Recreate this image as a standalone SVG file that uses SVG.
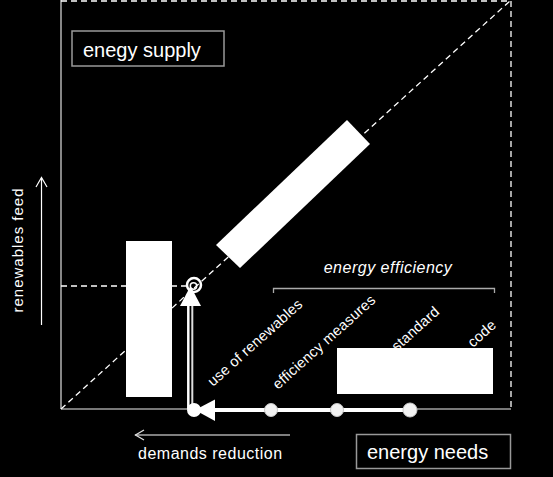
<svg xmlns="http://www.w3.org/2000/svg" width="553" height="477" viewBox="0 0 553 477">
<style>
text{font-family:"Liberation Sans",Arial,sans-serif;fill:#fff}
.dash{stroke:#fff;stroke-width:1.3;stroke-dasharray:6 4;fill:none}
.box{fill:#000;stroke:#999;stroke-width:1.5}
.blk{fill:#fff}
.dot{fill:#f2f2f2;stroke:#c8c8c8;stroke-width:1}
.lbl{font-size:14.6px;letter-spacing:0.2px}
</style>
<rect width="553" height="477" fill="#000"/>
<g id="frame">
<line x1="61" y1="0" x2="61" y2="409" stroke="#d0d0d0" stroke-width="1.3"/>
<line x1="61" y1="409" x2="511" y2="409" stroke="#a0a0a0" stroke-width="1.5"/>
<line x1="61" y1="1" x2="511" y2="1" class="dash"/>
<line x1="511" y1="1" x2="511" y2="409" class="dash"/>
<line x1="61" y1="409" x2="511" y2="0" class="dash"/>
<line x1="61" y1="286" x2="188" y2="286" class="dash"/>
</g>
<g id="supply-bar"><rect x="126" y="241" width="46" height="156" class="blk"/></g>
<g id="diag-bar"><polygon points="216,245 240,268 370,144 347,120" class="blk"/></g>
<g id="energy-supply">
<rect x="72" y="31" width="152" height="35" class="box"/>
<text x="83" y="57" font-size="20">enegy supply</text>
</g>
<g id="energy-needs">
<rect x="356.5" y="434.5" width="154" height="34" class="box"/>
<text x="367" y="459" font-size="20">energy needs</text>
</g>
<g id="energy-efficiency">
<text x="388" y="273" font-size="16" font-style="italic" letter-spacing="0.5" text-anchor="middle">energy efficiency</text>
<polyline points="273.5,293 273.5,288.5 494.5,288.5 494.5,293" fill="none" stroke="#aaa" stroke-width="1.3"/>
</g>
<g id="axis-y">
<text transform="translate(23,250) rotate(-90)" font-size="15" letter-spacing="1" text-anchor="middle">renewables feed</text>
<line x1="41.5" y1="325" x2="41.5" y2="178" stroke="#fff" stroke-width="1.2"/>
<polyline points="36,187 41.5,177.5 47,187" fill="none" stroke="#fff" stroke-width="1.2"/>
</g>
<g id="axis-x">
<text x="138" y="459" font-size="16" letter-spacing="0.5">demands reduction</text>
<line x1="135" y1="435" x2="290" y2="435" stroke="#aaa" stroke-width="1.5"/>
<polyline points="144,430 135.5,435 144,440" fill="none" stroke="#ddd" stroke-width="1.3"/>
</g>
<g id="labels" class="lbl">
<text transform="translate(213,387) rotate(-42)">use of renewables</text>
<text transform="translate(278,390) rotate(-42)">efficiency measures</text>
<text transform="translate(397,352) rotate(-42)">standard</text>
<text transform="translate(473,348) rotate(-42)">code</text>
</g>
<g id="needs-bar"><rect x="337" y="348" width="156" height="46" class="blk"/></g>
<g id="connectors">
<line x1="410" y1="410" x2="212" y2="410" stroke="#fff" stroke-width="4"/>
<polygon points="195,410 215,399.5 215,421" fill="#fff"/>
<line x1="188.3" y1="409" x2="188.3" y2="304" stroke="#fff" stroke-width="2.5"/>
<line x1="192.3" y1="409" x2="192.3" y2="304" stroke="#ddd" stroke-width="2"/>
<polygon points="190.5,286 180,306 201,306" fill="#fff"/>
<circle cx="194" cy="285" r="7" fill="none" stroke="#fff" stroke-width="2.5"/>
<circle cx="193.5" cy="286" r="3.2" fill="none" stroke="#fff" stroke-width="1.5"/>
</g>
<g id="dot-1"><circle cx="194" cy="410" r="7" fill="#fff"/></g>
<g id="dot-2"><circle cx="271" cy="410" r="6.5" class="dot"/></g>
<g id="dot-3"><circle cx="337" cy="410" r="6.5" class="dot"/></g>
<g id="dot-4"><circle cx="410" cy="410" r="7" class="dot"/></g>
</svg>
